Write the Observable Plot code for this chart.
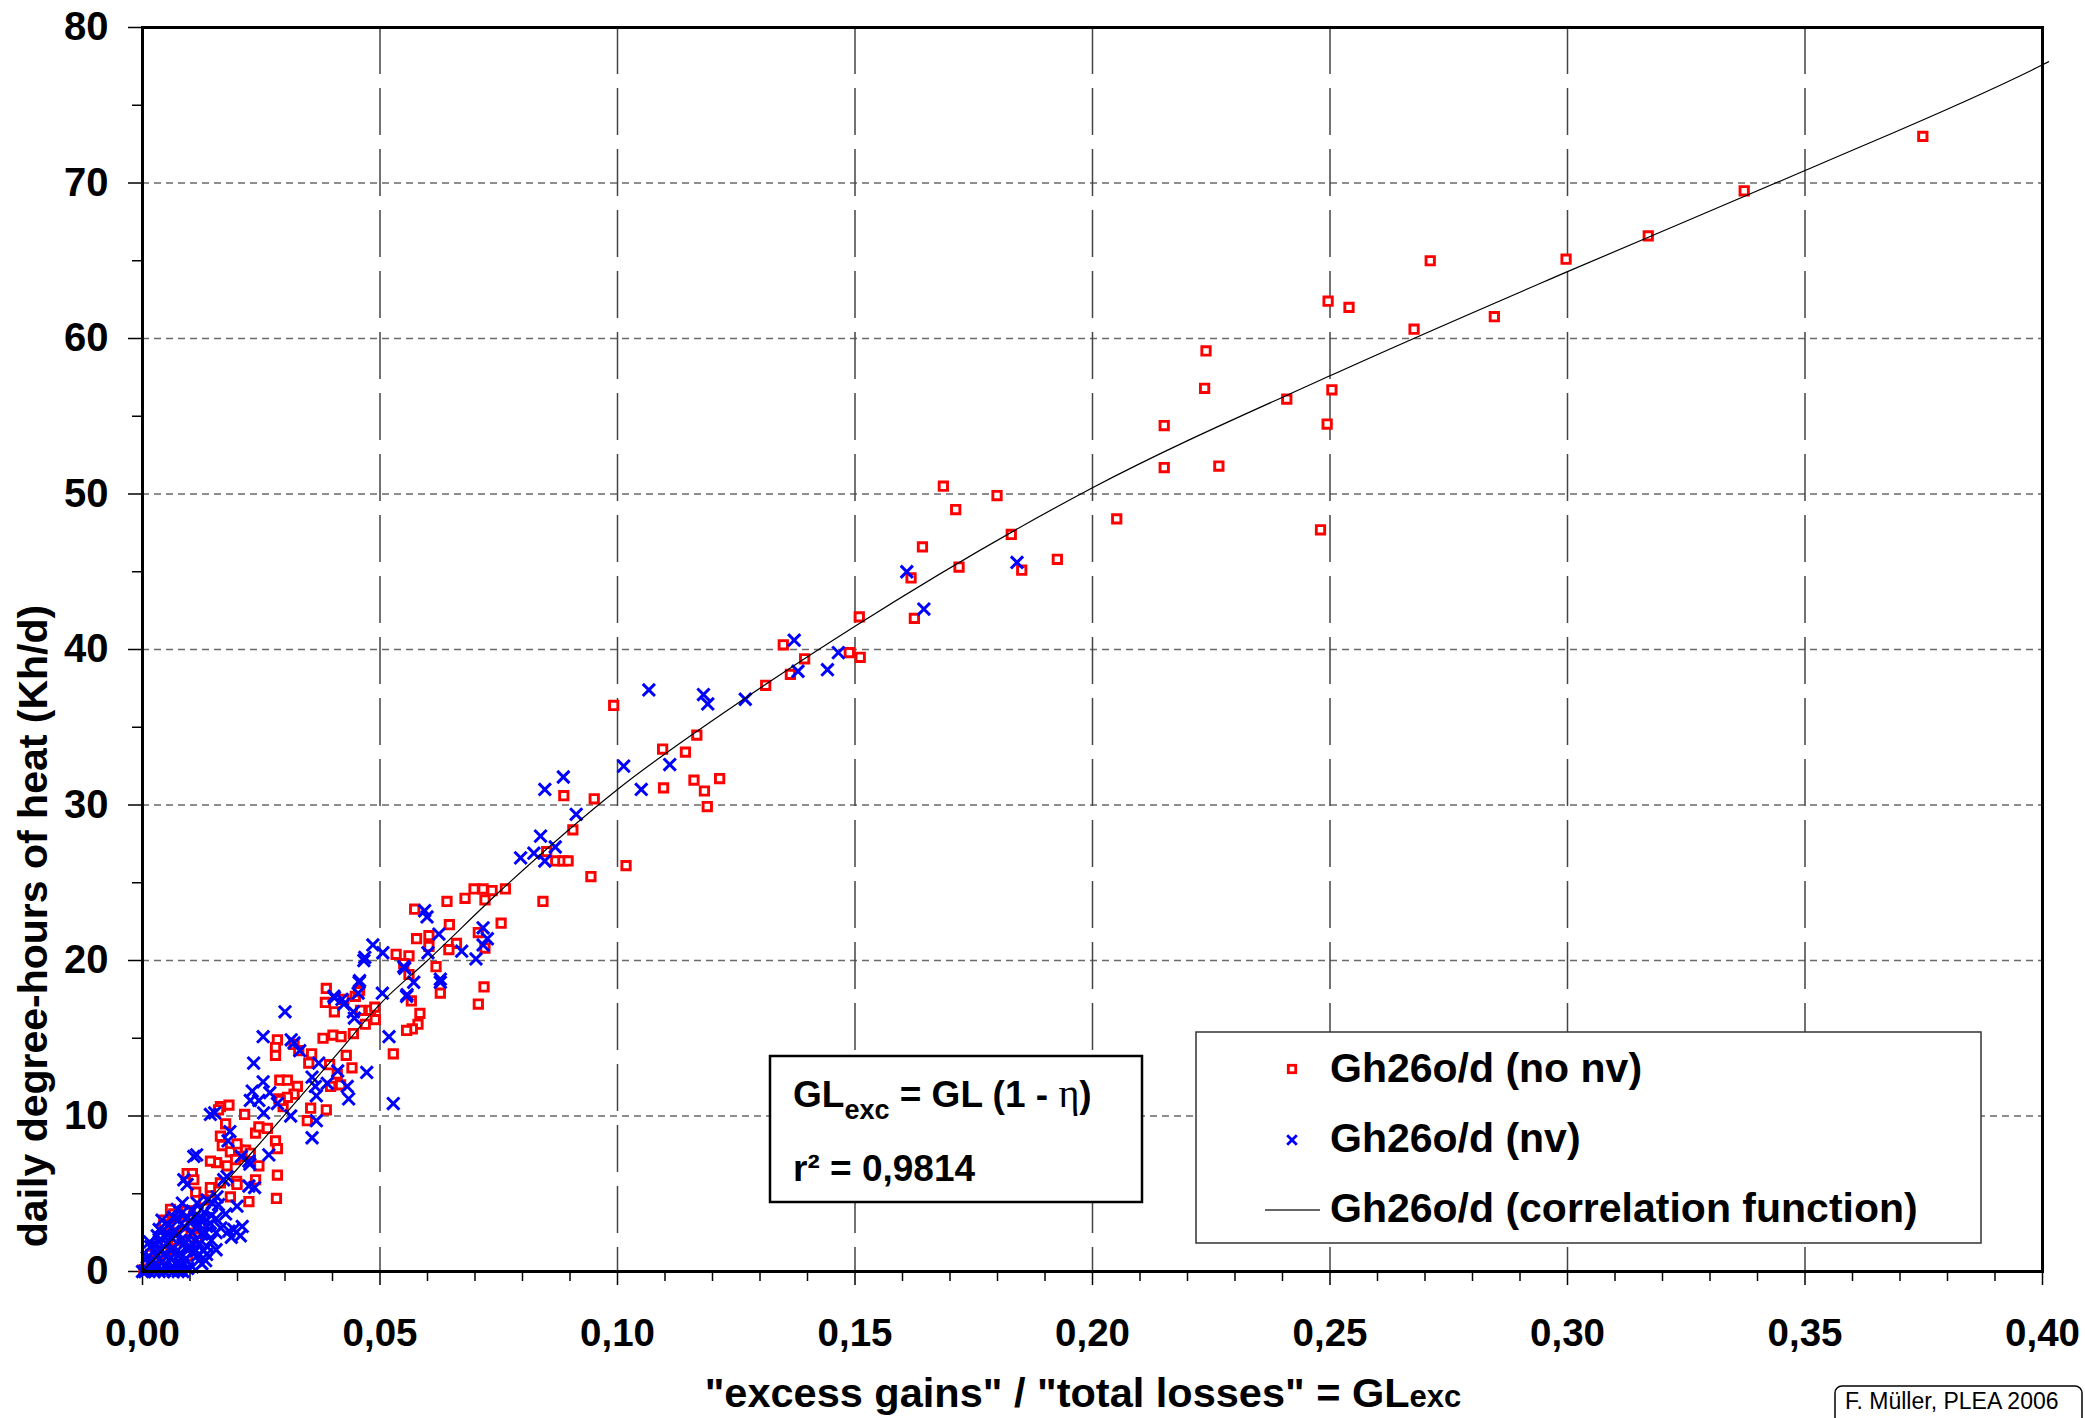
<!DOCTYPE html>
<html><head><meta charset="utf-8">
<script src="https://cdn.jsdelivr.net/npm/d3@7"></script>
<script src="https://cdn.jsdelivr.net/npm/@observablehq/plot@0.6"></script>
<style>
html,body{margin:0;padding:0;background:#fff;}
#chart{position:relative;width:2085px;height:1418px;overflow:hidden;}
</style></head><body><div id="chart"></div>
<script>
// ---- data ----
const noNvPoints = [
[0.3748,73.0],[0.3372,69.5],[0.317,66.6],[0.2997,65.1],[0.2711,65.0],[0.2496,62.4],[0.254,62.0],[0.2846,61.4],[0.2677,60.6],[0.2239,59.2],[0.2236,56.8],[0.2504,56.7],[0.2409,56.1],[0.2151,54.4],[0.2494,54.5],[0.2151,51.7],[0.2266,51.8],[0.2051,48.4],[0.248,47.7],
[0.1686,50.5],[0.1799,49.9],[0.1712,49.0],[0.1829,47.4],[0.1642,46.6],[0.1926,45.8],[0.1719,45.3],[0.1851,45.1],[0.1618,44.6],[0.1509,42.1],[0.1625,42.0],[0.1349,40.3],[0.1394,39.4],[0.1488,39.8],[0.1511,39.5],[0.1364,38.4],[0.1312,37.7],[0.1167,34.5],[0.1095,33.6],[0.1143,33.4],[0.1161,31.6],[0.1215,31.7],[0.1097,31.1],[0.1183,30.9],[0.1189,29.9],
[0.0992,36.4],[0.0887,30.6],[0.0951,30.4],[0.0906,28.4],[0.0851,27.0],[0.087,26.4],[0.0885,26.4],[0.0896,26.4],[0.1018,26.1],[0.0944,25.4],[0.0843,23.8],[0.0764,24.6],[0.0736,24.5],[0.0698,24.6],[0.0717,24.6],[0.0721,23.9],[0.0679,24.0],[0.0641,23.8],[0.0573,23.3],[0.0755,22.4],[0.0646,22.3],[0.0707,21.8],[0.0577,21.4],[0.0603,21.6],[0.0661,21.1],[0.0645,20.7],[0.0721,20.8],[0.0603,20.9],[0.0534,20.4],[0.0561,20.3],[0.0618,19.6],[0.0561,19.1],[0.0627,17.9],[0.0719,18.3],[0.0707,17.2],[0.0566,17.4],[0.0387,18.2],[0.0385,17.3],[0.0448,17.7],[0.0457,18.1],
[0.055,19.8],[0.0404,16.7],[0.0424,17.5],[0.0455,18.0],[0.0459,16.8],[0.048,16.8],[0.0489,17.0],[0.049,16.2],[0.0469,15.9],[0.0584,16.6],[0.058,15.9],[0.0568,15.6],[0.0556,15.5],[0.0528,14.0],[0.038,15.0],[0.0401,15.2],[0.0418,15.1],[0.0444,15.3],[0.0429,13.9],[0.0441,13.1],[0.0394,13.3],[0.041,12.7],[0.0417,12.0],[0.0396,11.9],[0.0387,10.4],[0.0347,9.7],[0.0354,10.5],[0.0284,14.9],[0.028,14.4],[0.028,13.9],[0.0319,14.6],[0.0329,14.2],[0.0356,14.0],[0.035,13.4],[0.0289,12.3],[0.0305,12.3],[0.0326,11.9],[0.0319,11.4],[0.0305,11.2],[0.0287,11.1],[0.0296,10.6],[0.029,11.0],
[0.0215,10.1],[0.0182,10.7],[0.0164,10.6],[0.016,10.4],[0.0175,9.5],[0.0238,8.9],[0.0245,9.3],[0.0263,9.2],[0.028,8.4],[0.0284,7.9],[0.0164,8.7],[0.0168,8.1],[0.0185,7.7],[0.0203,7.8],[0.0217,7.8],[0.0227,7.6],[0.0206,7.4],[0.0199,8.2],[0.0245,6.8],[0.0284,6.2],[0.0282,4.7],[0.0198,5.8],[0.0199,5.6],[0.0224,4.5],[0.0185,4.8],[0.0238,5.9],[0.0156,7.0],[0.0143,7.1],[0.0178,6.8],[0.0196,7.2],[0.0164,5.7],[0.0143,5.1],[0.0143,5.4],[0.0094,6.3],[0.0105,6.3],[0.0108,5.9],[0.0112,5.1],[0.0129,4.6],[0.0101,3.9],[0.0059,4.0],[0.0066,3.7],[0.008,3.7],[0.0091,3.9],[0.0122,2.8],[0.0045,3.3],[0.0052,2.8],
[0.0045,3.0],[0.0059,3.0],[0.0073,3.0],[0.0091,3.0],[0.0105,3.0],[0.0122,3.0],[0.007,2.0],[0.0085,2.4],[0.0115,2.2],[0.006,1.4],[0.0035,0.9],[0.0095,1.0],[0.0038,2.2],[0.0048,1.8],[0.0031,1.6],[0.0024,1.35],[0.0017,1.1],[0.0024,0.7],[0.001,0.5],[0.0003,0.1]
];
const nvPoints = [
[0.1841,45.6],[0.1609,45.0],[0.1645,42.6],[0.1372,40.6],[0.138,38.6],[0.1465,39.8],[0.1442,38.7],[0.1269,36.8],[0.1181,37.1],[0.119,36.5],[0.111,32.6],[0.1066,37.4],[0.1013,32.5],[0.105,31.0],[0.0886,31.8],[0.0847,31.0],[0.0913,29.4],[0.0838,28.0],[0.0869,27.3],[0.0796,26.6],[0.0824,26.9],[0.0847,26.4],
[0.0594,23.2],[0.0599,22.8],[0.0624,21.7],[0.0717,22.1],[0.0726,21.4],[0.0717,21.0],[0.0601,20.5],[0.0672,20.6],[0.0702,20.1],[0.0485,21.0],[0.0468,20.2],[0.0506,20.5],[0.0552,19.5],[0.0571,18.6],[0.0627,18.8],[0.0627,18.6],[0.0457,18.7],[0.0454,17.9],[0.0505,17.9],[0.0557,17.8],[0.0403,17.7],[0.042,17.5],
[0.03,16.7],[0.0254,15.1],[0.0313,14.9],[0.0319,14.7],[0.0331,14.2],[0.0234,13.4],[0.0254,12.2],[0.0231,11.6],[0.0227,11.0],[0.0268,11.5],[0.0245,11.0],[0.0255,10.2],[0.0284,10.8],[0.0152,10.2],[0.0143,10.1],[0.0312,10.0],[0.0357,12.5],[0.0364,11.9],[0.0366,11.3],[0.0371,13.4],[0.0389,12.1],[0.0411,12.9],[0.0431,11.9],[0.0434,11.1],[0.0366,9.7],[0.0357,8.6],[0.0472,12.8],[0.0519,15.1],[0.0528,10.8],[0.0556,17.7],[0.0456,18.6],[0.0404,17.6],[0.0424,17.2],[0.0444,16.7],[0.0446,16.3],[0.055,19.6],[0.0466,20.0],
[0.0184,9.0],[0.018,8.4],[0.0108,7.4],[0.0114,7.5],[0.0208,7.4],[0.0224,7.1],[0.0266,7.5],[0.0226,6.9],[0.0178,6.1],[0.0171,5.9],[0.0087,5.9],[0.0094,5.6],[0.0224,5.5],[0.0236,5.4],[0.0157,4.8],[0.0147,4.4],[0.0136,4.6],[0.0199,4.2],[0.0084,4.4],[0.0073,4.0],[0.021,2.9],[0.0206,2.3],[0.0192,2.7],[0.0182,2.6],[0.0187,2.2],[0.0143,3.1],[0.0136,1.6],[0.0133,0.7],[0.0105,1.2],[0.008,0.1],
[0.0133,2.5],[0.0129,1.35],[0.0091,1.9],[0.008,0.5],[0.0066,2.6],[0.0041,3.3],[0.0084,3.8],[0.0031,2.3],[0.0017,1.6],[0.0098,3.2],[0.0059,1.35],[0.0112,1.35],[0.0105,1.8],[0.0,0.0],
[0.001,0.1],[0.002,0.3],[0.003,0.2],[0.004,0.6],[0.005,0.4],[0.006,0.9],[0.007,0.5],[0.008,1.2],[0.009,0.8],[0.010,1.5],[0.011,2.0],[0.012,1.8],[0.002,0.8],[0.003,1.0],[0.004,1.4],[0.005,1.8],[0.006,2.2],[0.007,2.6],[0.008,2.0],[0.009,2.8],[0.010,3.2],[0.011,3.5],[0.012,3.0],[0.0005,0.0],[0.0015,0.5],[0.0035,0.0],[0.0055,0.1],[0.0065,0.3],[0.0075,0.0],[0.0085,0.4],[0.0095,0.2],[0.0045,1.1],[0.0065,1.5],[0.0085,1.7],[0.0105,2.5],[0.0115,1.0],[0.0125,2.4],[0.013,3.8],[0.0155,3.4],[0.0165,2.8],[0.0145,2.0],[0.0175,3.7],[0.016,4.3],[0.0115,4.4],[0.0095,3.5],[0.0135,1.1],[0.0155,1.4],
[0.0025,0.0],[0.0045,0.0],[0.0065,0.0],[0.0085,0.0],[0.0105,0.3],[0.0125,0.5],[0.001,0.9],[0.0025,1.3],[0.0035,1.9],[0.0055,2.4],[0.0075,3.3],[0.0055,3.0],[0.0035,2.7],[0.0015,1.9],[0.0105,3.9],[0.0125,3.4],[0.0145,3.6],[0.0065,3.5],[0.0045,2.3],[0.0075,1.0],[0.0095,1.4],[0.0115,2.9],[0.0135,2.9],[0.0155,2.5]
];
const corrPoints = [
[0,0],[0.0185,6.1],[0.041,14.0],[0.05,17.2],[0.06,20.0],[0.0754,24.5],[0.1,31.0],[0.128,37.1],[0.15,41.5],[0.2,50.4],[0.25,57.6],[0.3,64.3],[0.35,70.8],[0.4,77.6],[0.4013,77.8]
];
const xMajorTicks = [0,0.05,0.10,0.15,0.20,0.25,0.30,0.35,0.40];
const xMinorTicks = [0.01,0.02,0.03,0.04,0.06,0.07,0.08,0.09,0.11,0.12,0.13,0.14,0.16,0.17,0.18,0.19,0.21,0.22,0.23,0.24,0.26,0.27,0.28,0.29,0.31,0.32,0.33,0.34,0.36,0.37,0.38,0.39];
const yMajorTicks = [0,10,20,30,40,50,60,70,80];
const yMinorTicks = [5,15,25,35,45,55,65,75];
const xGridLines = [0.05,0.10,0.15,0.20,0.25,0.30,0.35];
const yGridLines = [10,20,30,40,50,60,70];
const seriesNames = ["Gh26o/d (no nv)","Gh26o/d (nv)","Gh26o/d (correlation function)"];
const xTitle = "\"excess gains\" / \"total losses\" = GL";
const yTitle = "daily degree-hours of heat (Kh/d)";
const credit = "F. Müller, PLEA 2006";

const FONT = "'Liberation Sans', Arial, Helvetica, sans-serif";
const fmtX = d => d.toFixed(2).replace(".", ",");

const W = 2085, H = 1418;
const svg = Plot.plot({
  width: W, height: H,
  marginLeft: 142, marginRight: 43, marginTop: 27, marginBottom: 147,
  x: {domain: [0, 0.4]},
  y: {domain: [0, 80]},
  style: {fontFamily: FONT, background: "white", overflow: "visible", color: "black"},
  marks: [
    Plot.gridY(yGridLines, {stroke: "#6a6a6a", strokeOpacity: 1, strokeWidth: 1.5, strokeDasharray: "7,5"}),
    Plot.gridX(xGridLines, {stroke: "#444", strokeOpacity: 1, strokeWidth: 1.5, strokeDasharray: "47,14"}),
    Plot.axisY(yMinorTicks, {tickSize: 10, tickFormat: () => "", strokeWidth: 1.5, label: null}),
    Plot.axisY(yMajorTicks, {tickSize: 14, tickPadding: 20, fontSize: 40, fontWeight: "bold", strokeWidth: 1.5, label: null}),
    Plot.axisX(xMinorTicks, {tickSize: 10, tickFormat: () => "", strokeWidth: 1.5, label: null}),
    Plot.axisX(xMajorTicks, {tickSize: 14, tickPadding: 33, tickFormat: fmtX, fontSize: 38.5, fontWeight: "bold", strokeWidth: 1.5, label: null}),
    Plot.dot(noNvPoints, {x: d => d[0], y: d => d[1], symbol: "square", r: 4.7, stroke: "#ff0000", fill: "white", strokeWidth: 2.9}),
    Plot.dot(nvPoints, {x: d => d[0], y: d => d[1], symbol: "times", r: 5.6, stroke: "#0000ff", strokeWidth: 3}),
    Plot.line(corrPoints, {x: d => d[0], y: d => d[1], stroke: "black", strokeWidth: 1.2, curve: "monotone-x"}),
    Plot.frame({stroke: "black", strokeWidth: 3})
  ]
});
document.getElementById("chart").appendChild(svg);

// ---- annotations: titles, equation box, legend, credit ----
const s = d3.select(svg);
const g = s.append("g").attr("font-family", FONT).attr("text-anchor", "start").attr("fill", "black");

// x title
const xt = g.append("text").attr("x", 1083).attr("y", 1407).attr("text-anchor", "middle")
  .attr("font-size", 41.5).attr("font-weight", "bold").text(xTitle);
xt.append("tspan").attr("font-size", 31).text("exc");

// y title
g.append("text").attr("transform", "translate(47,926) rotate(-90)").attr("text-anchor", "middle")
  .attr("font-size", 41).attr("font-weight", "bold").text(yTitle);

// equation box
g.append("rect").attr("x", 770).attr("y", 1056).attr("width", 372).attr("height", 146)
  .attr("fill", "white").attr("stroke", "black").attr("stroke-width", 2.5);
const eq = g.append("text").attr("x", 793).attr("y", 1107).attr("font-size", 37).attr("font-weight", "bold").attr("text-anchor", "start");
eq.append("tspan").text("GL");
eq.append("tspan").attr("font-size", 27).attr("dy", 12).text("exc");
eq.append("tspan").attr("dy", -12).text(" = GL (1 - ");
eq.append("tspan").attr("font-family", "'Liberation Serif', 'DejaVu Serif', serif").attr("font-weight", "normal").attr("font-size", 40).text("η");
eq.append("tspan").text(")");
g.append("text").attr("x", 793).attr("y", 1181).attr("font-size", 37).attr("font-weight", "bold").attr("text-anchor", "start").text("r² = 0,9814");

// legend
g.append("rect").attr("x", 1196).attr("y", 1032).attr("width", 785).attr("height", 211)
  .attr("fill", "white").attr("stroke", "#333").attr("stroke-width", 1.5);
const sq = 7.4;
g.append("rect").attr("x", 1292 - sq/2).attr("y", 1069 - sq/2).attr("width", sq).attr("height", sq)
  .attr("fill", "white").attr("stroke", "#ff0000").attr("stroke-width", 2.8);
const xr = 4.8;
g.append("path").attr("d", `M${1292-xr},${1140-xr}L${1292+xr},${1140+xr}M${1292-xr},${1140+xr}L${1292+xr},${1140-xr}`)
  .attr("stroke", "#0000ff").attr("stroke-width", 2.8).attr("fill", "none");
g.append("line").attr("x1", 1265).attr("x2", 1320).attr("y1", 1210).attr("y2", 1210)
  .attr("stroke", "#333").attr("stroke-width", 1.3);
seriesNames.forEach((name, i) => {
  g.append("text").attr("x", 1330).attr("y", 1082 + i * 70).attr("font-size", 41).attr("font-weight", "bold")
    .attr("text-anchor", "start").text(name);
});

// credit
g.append("rect").attr("x", 1835).attr("y", 1386).attr("width", 247).attr("height", 50).attr("rx", 7)
  .attr("fill", "white").attr("stroke", "black").attr("stroke-width", 1.5);
g.append("text").attr("x", 1845).attr("y", 1409).attr("font-size", 23).attr("text-anchor", "start").text(credit);
</script>
</body></html>
